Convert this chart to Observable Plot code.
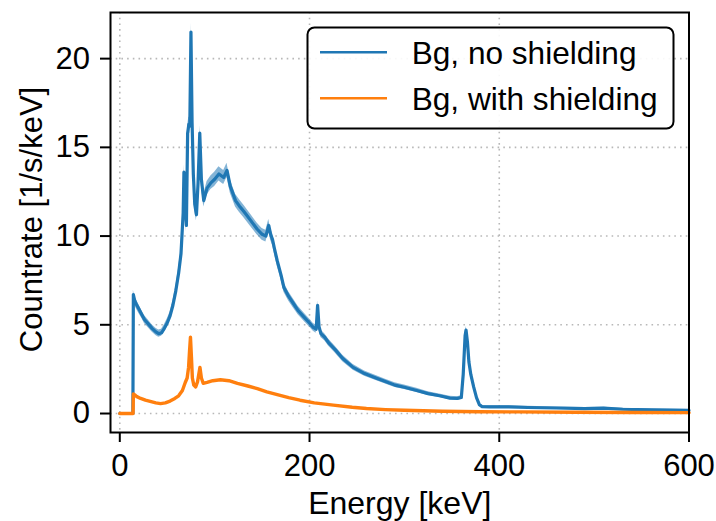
<!DOCTYPE html>
<html>
<head>
<meta charset="utf-8">
<script src="https://cdn.jsdelivr.net/npm/d3@7"></script>
<script src="https://cdn.jsdelivr.net/npm/@observablehq/plot@0.6"></script>
<style>
  html, body { margin: 0; padding: 0; background: white; }
</style>
</head>
<body>
<div id="chart"></div>
<script>
// ---- Data ----
const xTicks = [0, 200, 400, 600];
const yTicks = [0, 5, 10, 15, 20];

const seriesNames = ["Bg, no shielding", "Bg, with shielding"];
const seriesColors = ["#1f77b4", "#ff7f0e"];

// Background, no shielding: energy [keV], countrate, uncertainty
const blueEnergy = [0, 13.8, 14.3, 15.5, 17, 20, 23, 26, 30, 34, 38, 41, 44, 47, 50, 53, 56, 59, 62, 64.5,
  66.8, 67.6, 68.5, 70.2, 71.5, 72.8, 73.8, 75, 76.2, 77.5, 79, 80.8, 82.5, 84.3, 86, 88.5, 92, 96, 100, 104.5,
  109.5, 113, 116.5, 122, 126, 130.6, 137.7, 144.7, 150, 154, 157, 159, 161, 163, 166, 170, 173, 178, 183, 188,
  194, 200, 204, 207, 208.5, 210, 212, 216, 220, 227, 235, 246, 258, 270, 280, 290, 300, 313, 325, 337,
  348, 356, 360, 362, 364, 365, 366.5, 368, 370, 373, 376, 379, 382, 390, 410, 430, 460, 490, 510, 530, 560, 600];
const blueRate = [0, 0, 6.7, 6.4, 6.2, 5.9, 5.6, 5.3, 5.05, 4.8, 4.6, 4.5, 4.55, 4.8, 5.1, 5.5, 6.1, 6.9, 7.9, 9.0,
  11.3, 13.6, 12.2, 10.6, 15.8, 16.3, 16.2, 21.5, 16.4, 13.5, 11.8, 11.2, 13.0, 15.8, 13.2, 12.0, 12.7, 13.0, 13.2, 13.5,
  13.3, 13.7, 12.8, 12.0, 11.7, 11.4, 10.9, 10.4, 10.1, 10.0, 10.6, 10.1, 9.8, 9.3, 8.6, 7.8, 7.1, 6.6, 6.2, 5.8,
  5.45, 5.1, 4.85, 4.75, 6.1, 4.9, 4.5, 4.3, 4.0, 3.6, 3.1, 2.6, 2.25, 2.0, 1.8, 1.6, 1.48, 1.3, 1.12, 1.0,
  0.87, 0.85, 0.9, 2.2, 4.4, 4.7, 4.0, 2.9, 2.2, 1.5, 0.9, 0.5, 0.38, 0.37, 0.37, 0.34, 0.31, 0.28, 0.3, 0.24, 0.2, 0.18];
const blueErr = [0, 0, 0.25, 0.25, 0.25, 0.25, 0.22, 0.22, 0.22, 0.2, 0.2, 0.2, 0.2, 0.2, 0.22, 0.22, 0.25, 0.25, 0.28, 0.3,
  0.35, 0.4, 0.38, 0.35, 0.42, 0.42, 0.42, 0.5, 0.42, 0.38, 0.36, 0.35, 0.38, 0.42, 0.38, 0.36, 0.38, 0.38, 0.4, 0.4,
  0.4, 0.4, 0.38, 0.36, 0.36, 0.35, 0.34, 0.33, 0.33, 0.33, 0.34, 0.33, 0.32, 0.31, 0.3, 0.28, 0.27, 0.26, 0.25, 0.24,
  0.23, 0.22, 0.22, 0.22, 0.25, 0.22, 0.21, 0.2, 0.2, 0.19, 0.18, 0.16, 0.15, 0.14, 0.13, 0.13, 0.12, 0.12, 0.11, 0.1,
  0.1, 0.1, 0.1, 0.15, 0.2, 0.2, 0.2, 0.17, 0.15, 0.12, 0.1, 0.08, 0.07, 0.07, 0.07, 0.07, 0.06, 0.06, 0.06, 0.06, 0.05, 0.05];

// Background, with shielding: energy [keV], countrate
const orangeEnergy = [0, 14, 14.3, 16, 18, 22, 27, 32, 38, 43, 48, 53, 58, 62, 66, 69, 71, 72.5, 73.5, 74.5,
  75.5, 76.5, 78, 80, 82, 84.5, 86, 88, 92, 98, 106, 115, 124, 135, 145, 155, 165, 178, 190, 205,
  225, 245, 260, 280, 300, 340, 380, 420, 480, 540, 600];
const orangeRate = [0, 0, 1.1, 1.05, 0.95, 0.85, 0.75, 0.68, 0.6, 0.56, 0.6, 0.7, 0.85, 1.0, 1.3, 1.75, 2.0, 2.6, 3.5, 4.3,
  3.2, 2.0, 1.6, 1.5, 1.8, 2.6, 2.0, 1.7, 1.75, 1.85, 1.9, 1.85, 1.7, 1.55, 1.4, 1.22, 1.08, 0.9, 0.75, 0.6,
  0.47, 0.35, 0.28, 0.22, 0.18, 0.13, 0.1, 0.09, 0.07, 0.06, 0.05];

// ---- Build tables ----
const blue = blueEnergy.map((e, i) => ({E: e, v: blueRate[i], lo: blueRate[i] - blueErr[i], hi: blueRate[i] + blueErr[i]}));
const orange = orangeEnergy.map((e, i) => ({E: e, v: orangeRate[i]}));

const FONT = "'Liberation Sans', Arial, Helvetica, sans-serif";
const GRID = {stroke: "#b8b8b8", strokeOpacity: 1, strokeWidth: 1.6, strokeDasharray: "1.6,4.1"};

const chart = Plot.plot({
  width: 716,
  height: 521,
  marginLeft: 110,
  marginRight: 27.5,
  marginTop: 12,
  marginBottom: 89,
  x: {domain: [-9.8, 600]},
  y: {domain: [-1.07, 22.6]},
  style: {fontFamily: FONT, fontSize: "31px", color: "black", background: "white", overflow: "visible"},
  marks: [
    Plot.gridX(xTicks, GRID),
    Plot.gridY(yTicks, GRID),
    Plot.areaY(blue, {x: "E", y1: "lo", y2: "hi", fill: seriesColors[0], fillOpacity: 0.55}),
    Plot.lineY(blue, {x: "E", y: "v", stroke: seriesColors[0], strokeWidth: 3.2}),
    Plot.lineY(orange, {x: "E", y: "v", stroke: seriesColors[1], strokeWidth: 3.4}),
    Plot.frame({stroke: "black", strokeWidth: 2}),
    Plot.axisX(xTicks, {tickSize: 10, tickPadding: 11.5, strokeWidth: 2, label: null, tickFormat: d => d}),
    Plot.axisY(yTicks, {tickSize: 10, tickPadding: 10.5, strokeWidth: 2, label: null, tickFormat: d => d}),
    Plot.text(["Energy [keV]"], {text: d => d, frameAnchor: "bottom", textAnchor: "middle", dy: 81, lineAnchor: "bottom", fontSize: 32}),
    Plot.text(["Countrate [1/s/keV]"], {text: d => d, frameAnchor: "left", textAnchor: "middle", dx: -69, dy: -3, rotate: -90, lineAnchor: "bottom", fontSize: 31})
  ]
});

document.getElementById("chart").appendChild(chart);

// ---- Legend (matplotlib style, upper right inside axes) ----
const svg = d3.select(chart);
const lg = svg.append("g").attr("font-family", FONT).attr("font-size", "31.6px").attr("text-anchor", "start");
lg.append("rect")
  .attr("x", 307.5).attr("y", 27.5).attr("width", 366).attr("height", 101)
  .attr("rx", 7).attr("ry", 7)
  .attr("fill", "white").attr("fill-opacity", 0.9)
  .attr("stroke", "black").attr("stroke-width", 2);
const rowsY = [52.3, 98.3];
seriesNames.forEach((name, i) => {
  lg.append("line")
    .attr("x1", 320).attr("x2", 387).attr("y1", rowsY[i]).attr("y2", rowsY[i])
    .attr("stroke", seriesColors[i]).attr("stroke-width", 2.5);
  lg.append("text")
    .attr("x", 411.7).attr("y", rowsY[i] + 11.5)
    .attr("fill", "black")
    .attr("text-anchor", "start")
    .text(name);
});
</script>
</body>
</html>
